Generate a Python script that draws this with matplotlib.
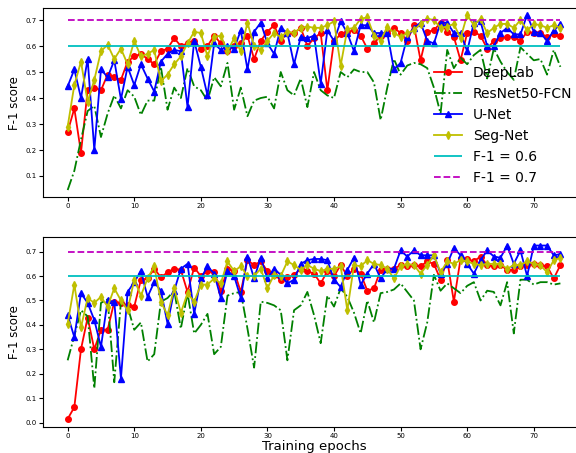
import numpy as np
import matplotlib
matplotlib.use('Agg')
import matplotlib.pyplot as plt

# Training epochs 0..74
epochs = np.arange(75)

# ---- top panel: F-1 score per epoch ----
top_deeplab = [0.27, 0.36, 0.19, 0.43, 0.44, 0.43, 0.49, 0.48, 0.47, 0.54,
               0.56, 0.57, 0.55, 0.53, 0.58, 0.59, 0.63, 0.60, 0.61, 0.62,
               0.59, 0.60, 0.64, 0.61, 0.58, 0.60, 0.61, 0.64, 0.55, 0.62,
               0.655, 0.68, 0.62, 0.65, 0.65, 0.67, 0.60, 0.63, 0.65, 0.43,
               0.62, 0.645, 0.655, 0.66, 0.64, 0.59, 0.61, 0.64, 0.65, 0.67,
               0.65, 0.62, 0.68, 0.545, 0.655, 0.66, 0.69, 0.655, 0.635, 0.545,
               0.65, 0.655, 0.64, 0.59, 0.62, 0.63, 0.635, 0.635, 0.62, 0.655,
               0.65, 0.65, 0.635, 0.645, 0.64]
top_resnet = [0.046, 0.12, 0.24, 0.35, 0.37, 0.25, 0.34, 0.41, 0.36, 0.43,
              0.405, 0.335, 0.39, 0.39, 0.52, 0.355, 0.44, 0.40, 0.515, 0.445,
              0.43, 0.39, 0.48, 0.445, 0.535, 0.355, 0.44, 0.33, 0.39, 0.40,
              0.405, 0.36, 0.50, 0.43, 0.41, 0.475, 0.365, 0.50, 0.43, 0.41,
              0.40, 0.50, 0.48, 0.51, 0.50, 0.50, 0.46, 0.315, 0.44, 0.55,
              0.49, 0.525, 0.535, 0.53, 0.515, 0.44, 0.34, 0.585, 0.515, 0.555,
              0.53, 0.565, 0.585, 0.475, 0.59, 0.54, 0.50, 0.47, 0.595, 0.57,
              0.545, 0.55, 0.49, 0.585, 0.52]
top_unet = [0.445, 0.51, 0.40, 0.55, 0.20, 0.51, 0.48, 0.545, 0.395, 0.52,
            0.45, 0.53, 0.475, 0.425, 0.54, 0.57, 0.585, 0.58, 0.365, 0.62,
            0.52, 0.41, 0.61, 0.585, 0.60, 0.59, 0.66, 0.51, 0.655, 0.69,
            0.61, 0.57, 0.67, 0.65, 0.53, 0.635, 0.63, 0.64, 0.455, 0.66,
            0.62, 0.695, 0.65, 0.58, 0.68, 0.68, 0.65, 0.65, 0.65, 0.51,
            0.535, 0.635, 0.67, 0.69, 0.62, 0.61, 0.69, 0.69, 0.65, 0.65,
            0.58, 0.69, 0.695, 0.60, 0.60, 0.65, 0.67, 0.645, 0.645, 0.72,
            0.655, 0.65, 0.62, 0.66, 0.685]
top_segnet = [0.29, 0.45, 0.54, 0.385, 0.47, 0.58, 0.605, 0.55, 0.59, 0.53,
              0.62, 0.56, 0.57, 0.585, 0.465, 0.49, 0.53, 0.56, 0.61, 0.655,
              0.65, 0.56, 0.635, 0.64, 0.58, 0.63, 0.58, 0.69, 0.60, 0.585,
              0.62, 0.65, 0.635, 0.655, 0.65, 0.67, 0.675, 0.67, 0.67, 0.68,
              0.695, 0.525, 0.665, 0.67, 0.705, 0.71, 0.64, 0.62, 0.675, 0.65,
              0.635, 0.65, 0.66, 0.685, 0.705, 0.70, 0.67, 0.675, 0.685, 0.63,
              0.72, 0.68, 0.705, 0.65, 0.67, 0.685, 0.685, 0.67, 0.70, 0.66,
              0.685, 0.68, 0.67, 0.68, 0.67]

# ---- bottom panel ----
bot_deeplab = [0.015, 0.063, 0.30, 0.43, 0.30, 0.38, 0.38, 0.495, 0.49, 0.48,
               0.475, 0.585, 0.59, 0.63, 0.595, 0.615, 0.63, 0.625, 0.535, 0.635,
               0.60, 0.62, 0.615, 0.54, 0.63, 0.62, 0.535, 0.665, 0.645, 0.66,
               0.62, 0.605, 0.585, 0.595, 0.605, 0.63, 0.62, 0.61, 0.57, 0.62,
               0.60, 0.645, 0.60, 0.63, 0.61, 0.54, 0.55, 0.625, 0.63, 0.63,
               0.645, 0.64, 0.645, 0.64, 0.66, 0.65, 0.585, 0.665, 0.495, 0.67,
               0.67, 0.66, 0.68, 0.645, 0.64, 0.645, 0.625, 0.625, 0.64, 0.645,
               0.65, 0.645, 0.64, 0.59, 0.645]
bot_resnet = [0.255, 0.355, 0.46, 0.435, 0.14, 0.49, 0.505, 0.165, 0.495, 0.475,
              0.38, 0.41, 0.25, 0.28, 0.495, 0.51, 0.54, 0.385, 0.53, 0.365,
              0.40, 0.445, 0.28, 0.31, 0.52, 0.53, 0.535, 0.385, 0.225, 0.495,
              0.49, 0.48, 0.46, 0.255, 0.46, 0.48, 0.535, 0.44, 0.325, 0.52,
              0.475, 0.55, 0.515, 0.45, 0.365, 0.50, 0.41, 0.53, 0.535, 0.545,
              0.57, 0.535, 0.50, 0.30, 0.41, 0.605, 0.54, 0.57, 0.55, 0.53,
              0.56, 0.575, 0.50, 0.54, 0.535, 0.48, 0.575, 0.365, 0.585, 0.585,
              0.565, 0.575, 0.575, 0.565, 0.57]
bot_unet = [0.44, 0.35, 0.53, 0.49, 0.42, 0.31, 0.50, 0.495, 0.18, 0.535,
            0.575, 0.62, 0.515, 0.575, 0.54, 0.405, 0.54, 0.63, 0.65, 0.445,
            0.59, 0.64, 0.61, 0.51, 0.62, 0.60, 0.51, 0.68, 0.59, 0.675,
            0.59, 0.63, 0.605, 0.57, 0.585, 0.65, 0.665, 0.67, 0.67, 0.665,
            0.585, 0.555, 0.625, 0.675, 0.565, 0.61, 0.65, 0.59, 0.63, 0.63,
            0.705, 0.68, 0.705, 0.685, 0.685, 0.685, 0.61, 0.65, 0.715, 0.685,
            0.65, 0.61, 0.665, 0.705, 0.68, 0.675, 0.725, 0.65, 0.705, 0.60,
            0.725, 0.725, 0.725, 0.685, 0.69]
bot_segnet = [0.405, 0.565, 0.39, 0.51, 0.49, 0.515, 0.475, 0.55, 0.50, 0.46,
              0.585, 0.52, 0.59, 0.64, 0.495, 0.44, 0.55, 0.45, 0.53, 0.495,
              0.565, 0.565, 0.59, 0.57, 0.66, 0.62, 0.64, 0.60, 0.60, 0.63,
              0.55, 0.605, 0.60, 0.66, 0.645, 0.625, 0.645, 0.63, 0.62, 0.63,
              0.63, 0.64, 0.46, 0.645, 0.64, 0.665, 0.65, 0.645, 0.63, 0.59,
              0.64, 0.65, 0.645, 0.61, 0.645, 0.685, 0.615, 0.66, 0.65, 0.665,
              0.66, 0.65, 0.645, 0.65, 0.65, 0.65, 0.63, 0.645, 0.645, 0.66,
              0.65, 0.645, 0.615, 0.665, 0.675]

# reference thresholds
f1_low = 0.6
f1_high = 0.7


def draw_panel(ax, deeplab, resnet, unet, segnet):
    ax.plot(epochs, deeplab, 'r-o', markersize=4, linewidth=1.3, label='DeepLab')
    ax.plot(epochs, resnet, 'g-.', linewidth=1.3, label='ResNet50-FCN')
    ax.plot(epochs, unet, 'b-^', markersize=4, linewidth=1.3, label='U-Net')
    ax.plot(epochs, segnet, 'y-d', markersize=4, linewidth=1.3, label='Seg-Net')
    ax.hlines(f1_low, epochs[0], epochs[-1], colors='c', linewidth=1.3, label='F-1 = 0.6')
    ax.hlines(f1_high, epochs[0], epochs[-1], colors='m', linestyles='--', linewidth=1.3, label='F-1 = 0.7')
    ax.set_xlim(-3.7, 77.7)
    ax.set_xticks(np.arange(0, 71, 10))
    ax.tick_params(labelsize=5, length=3, pad=1.5)
    ax.set_ylabel('F-1 score', fontsize=8.5, labelpad=3)


fig = plt.figure(figsize=(5.76, 4.53), dpi=100)

ax1 = fig.add_axes([0.0747, 0.565, 0.941, 0.4166])
draw_panel(ax1, top_deeplab, top_resnet, top_unet, top_segnet)
ax1.set_ylim(0.019, 0.745)
ax1.legend(loc='lower right', fontsize=10, frameon=False)

ax2 = fig.add_axes([0.0747, 0.058, 0.941, 0.4194])
draw_panel(ax2, bot_deeplab, bot_resnet, bot_unet, bot_segnet)
ax2.set_ylim(-0.017, 0.761)
ax2.set_xlabel('Training epochs', fontsize=9.5, labelpad=1)

fig.savefig('out.png', dpi=100)
